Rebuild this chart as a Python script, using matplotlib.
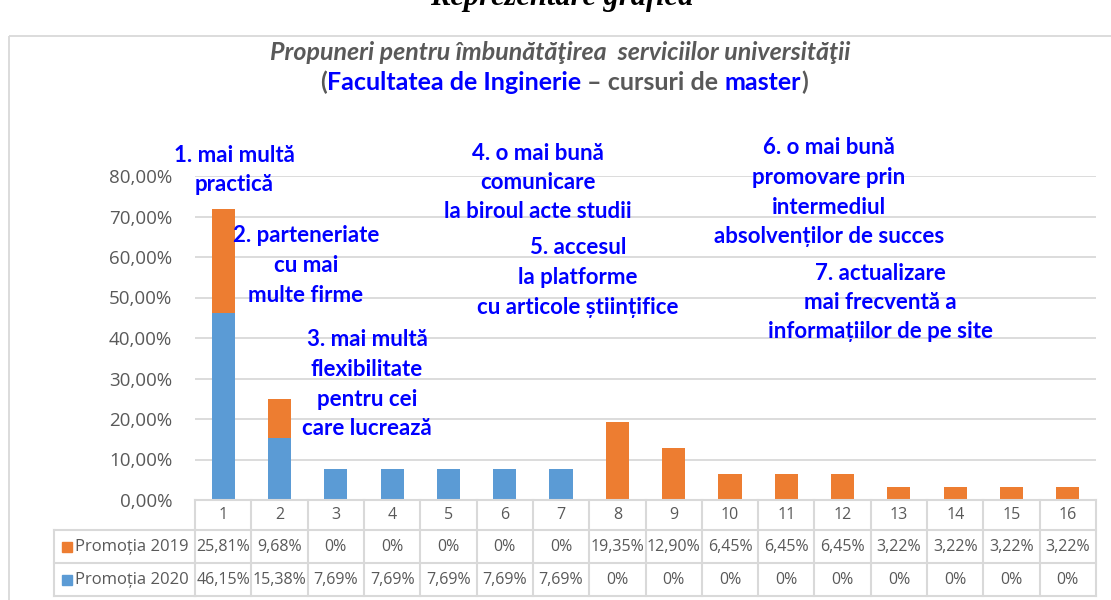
import matplotlib
matplotlib.use("Agg")
import matplotlib.pyplot as plt
import matplotlib.transforms as mtransforms
from matplotlib.lines import Line2D
from matplotlib.patches import Rectangle

# date
categorii = [str(i) for i in range(1, 17)]
promotia_2019 = [25.81, 9.68, 0, 0, 0, 0, 0, 19.35, 12.90, 6.45, 6.45, 6.45, 3.22, 3.22, 3.22, 3.22]
promotia_2020 = [46.15, 15.38, 7.69, 7.69, 7.69, 7.69, 7.69, 0, 0, 0, 0, 0, 0, 0, 0, 0]
serii = ["Promoția 2019", "Promoția 2020"]
y_ticks = [0, 10, 20, 30, 40, 50, 60, 70, 80]

propuneri = [
    (1, ["1. mai multă", "practică"]),
    (2, ["2. parteneriate", "cu mai", "multe firme"]),
    (3, ["3. mai multă", "flexibilitate", "pentru cei", "care lucrează"]),
    (4, ["4. o mai bună", "comunicare", "la biroul acte studii"]),
    (5, ["5. accesul", "la platforme", "cu articole științifice"]),
    (6, ["6. o mai bună", "promovare prin", "intermediul", "absolvenților de succes"]),
    (7, ["7. actualizare", "mai frecventă a", "informațiilor de pe site"]),
]
# pozitii (px) ale textelor
poz_propuneri = {1: (234, 155), 2: (306, 236), 3: (367, 340), 4: (538, 153),
                 5: (578, 248), 6: (829, 148), 7: (880, 273)}

ALBASTRU = "#5B9BD5"
PORTOCALIU = "#ED7D31"
GRI = "#595959"
GRILA = "#D9D9D9"
TXT_BLUE = "#0000FF"

W, H = 1111, 600
fig = plt.figure(figsize=(W / 100, H / 100), dpi=100)

ax_l, ax_r, ax_t, ax_b = 195, 1096, 176, 500
ax = fig.add_axes([ax_l / W, (H - ax_b) / H, (ax_r - ax_l) / W, (ax_b - ax_t) / H], zorder=1)
ax.patch.set_alpha(0)

# strat pentru desen in pixeli (deasupra graficului)
ov = fig.add_axes([0, 0, 1, 1], zorder=2)
ov.set_xlim(0, W)
ov.set_ylim(H, 0)
ov.axis("off")

x = range(1, 17)
ax.bar(x, promotia_2020, width=0.41, color=ALBASTRU, zorder=3)
ax.bar(x, promotia_2019, width=0.41, bottom=promotia_2020, color=PORTOCALIU, zorder=3)
ax.set_xlim(0.5, 16.5)
ax.set_ylim(0, 80)
ax.set_yticks(y_ticks)
ax.set_yticklabels([f"{v:.2f}".replace(".", ",") + "%" for v in y_ticks],
                   fontsize=13.5, color=GRI, family="Open Sans")
ax.tick_params(axis="y", length=0, pad=16.5)
ax.set_xticks([])
ax.grid(axis="y", color=GRILA, linewidth=1.3, zorder=0)
for s in ax.spines.values():
    s.set_visible(False)

# chenar exterior
ov.add_patch(Rectangle((9, 36), 1200, 600, fill=False, edgecolor=GRILA, linewidth=1.3))

# titlu taiat sus
ov.text(562, 5, "Reprezentare grafică", ha="center", va="baseline", fontsize=22,
        family="Liberation Serif", weight="bold", style="italic", color="black")

ov.text(560, 52, "Propuneri pentru îmbunătăţirea  serviciilor universităţii", ha="center",
        va="center", fontsize=18, family="Lato", weight="bold", style="italic", color=GRI)

# subtitlu multicolor
parti = [("(", GRI), ("Facultatea de Inginerie", TXT_BLUE), (" – cursuri de ", GRI),
         ("master", TXT_BLUE), (")", GRI)]
fig.canvas.draw()
rend = fig.canvas.get_renderer()
tmp = []
for txt, c in parti:
    t = ov.text(0, 82, txt, ha="left", va="center", fontsize=18, family="Lato",
                weight="bold", color=c)
    tmp.append(t)
widths = [t.get_window_extent(rend).width for t in tmp]
xpos = 564 - sum(widths) / 2
for t, w in zip(tmp, widths):
    t.set_x(xpos)
    xpos += w

# textele propunerilor
for nr, linii in propuneri:
    cx, cy = poz_propuneri[nr]
    for k, l in enumerate(linii):
        ov.text(cx, cy + k * 29.5, l, ha="center", va="center", fontsize=16,
                family="Lato", weight="bold", color=TXT_BLUE, zorder=5)

# tabelul de date
tr = mtransforms.blended_transform_factory(ax.transData, ov.transData)
rows_y = [500, 530, 563, 596]
lc = GRILA
lw = 1.5
for xb in [i + 0.5 for i in range(0, 17)]:
    ov.add_line(Line2D([xb, xb], [rows_y[0], rows_y[-1]], color=lc, lw=lw, transform=tr))
for yy in rows_y:
    ov.add_line(Line2D([ax_l, ax_r], [yy, yy], color=lc, lw=lw))
for yy in rows_y[1:]:
    ov.add_line(Line2D([54, ax_l], [yy, yy], color=lc, lw=lw))
ov.add_line(Line2D([54, 54], [rows_y[1], rows_y[-1]], color=lc, lw=lw))

fmt = lambda v: "0%" if v == 0 else f"{v:.2f}".replace(".", ",") + "%"
for i, c in enumerate(categorii):
    ov.text(i + 1, 515, c, ha="center", va="center", fontsize=11.5, color=GRI,
            family="Open Sans", transform=tr)
    ov.text(i + 1, 547, fmt(promotia_2019[i]), ha="center", va="center", fontsize=11.5,
            color=GRI, family="Open Sans", transform=tr)
    ov.text(i + 1, 580, fmt(promotia_2020[i]), ha="center", va="center", fontsize=11.5,
            color=GRI, family="Open Sans", transform=tr)

for yy, nume, col in [(547, serii[0], PORTOCALIU), (580, serii[1], ALBASTRU)]:
    ov.add_patch(Rectangle((62, yy - 5), 10, 10, color=col))
    ov.text(75, yy, nume, ha="left", va="center", fontsize=12, color=GRI, family="Open Sans")

fig.savefig("out.png", dpi=100)
